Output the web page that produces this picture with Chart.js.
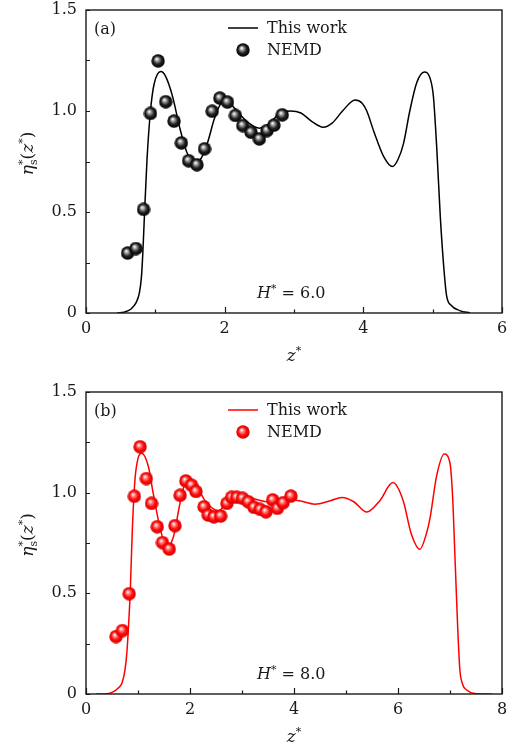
<!DOCTYPE html>
<html lang="en">
<head>
    <meta charset="UTF-8">
    <title>Shear viscosity profiles</title>
    <script src="https://cdn.jsdelivr.net/npm/chart.js"></script>
    <style>
        body { margin: 0; background: #fff; }
        .panel { position: absolute; left: 0; width: 515px; }
    </style>
</head>
<body>
    <div class="panel" style="top:0;height:375px"><canvas id="chart-a"></canvas></div>
    <div class="panel" style="top:375px;height:374px"><canvas id="chart-b"></canvas></div>

    <script>
        // panel (a), H* = 6.0
        const curveAZ = [0.45, 0.55, 0.65, 0.72, 0.77, 0.80, 0.82, 0.84, 0.88, 0.93, 0.98, 1.08, 1.15, 1.25, 1.35, 1.45, 1.55, 1.65, 1.75, 1.85, 1.95, 2.00, 2.10, 2.20, 2.35, 2.50, 2.65, 2.80, 2.95, 3.10, 3.25, 3.42, 3.55, 3.70, 3.88, 3.98, 4.05, 4.15, 4.30, 4.42, 4.50, 4.58, 4.67, 4.77, 4.88, 4.96, 5.01, 5.06, 5.11, 5.16, 5.20, 5.27, 5.39, 5.54];
        const curveAEta = [0, 0.004, 0.02, 0.05, 0.1, 0.18, 0.3, 0.46, 0.76, 1.0, 1.13, 1.195, 1.17, 1.07, 0.92, 0.8, 0.745, 0.76, 0.84, 0.96, 1.04, 1.05, 1.03, 0.99, 0.94, 0.915, 0.94, 0.99, 1.0, 0.99, 0.95, 0.92, 0.94, 1.0, 1.055, 1.04, 1.0, 0.9, 0.77, 0.725, 0.76, 0.84, 1.0, 1.14, 1.193, 1.165, 1.074, 0.81, 0.477, 0.228, 0.087, 0.037, 0.012, 0];
        const nemdAZ = [0.60, 0.72, 0.83, 0.93, 1.04, 1.15, 1.27, 1.375, 1.48, 1.60, 1.71, 1.82, 1.93, 2.04, 2.155, 2.26, 2.38, 2.50, 2.61, 2.71, 2.83];
        const nemdAEta = [0.297, 0.319, 0.513, 0.988, 1.248, 1.046, 0.95, 0.842, 0.754, 0.734, 0.813, 0.999, 1.064, 1.044, 0.978, 0.928, 0.895, 0.862, 0.903, 0.93, 0.981];

        // panel (b), H* = 8.0
        const curveBZ = [0.2, 0.4, 0.53, 0.62, 0.69, 0.75, 0.79, 0.82, 0.85, 0.89, 0.94, 1.0, 1.07, 1.2, 1.29, 1.42, 1.55, 1.68, 1.81, 1.92, 2.0, 2.13, 2.29, 2.42, 2.55, 2.70, 2.85, 2.99, 3.15, 3.3, 3.5, 3.7, 3.9, 4.1, 4.4, 4.7, 4.92, 5.15, 5.40, 5.65, 5.90, 6.1, 6.25, 6.42, 6.55, 6.62, 6.74, 6.89, 7.0, 7.05, 7.10, 7.15, 7.19, 7.24, 7.32, 7.48, 7.8];
        const curveBEta = [0, 0.001, 0.012, 0.03, 0.053, 0.12, 0.22, 0.35, 0.5, 0.81, 1.06, 1.17, 1.196, 1.13, 1.0, 0.83, 0.73, 0.78, 0.95, 1.055, 1.06, 1.03, 0.96, 0.925, 0.91, 0.95, 0.98, 0.985, 0.975, 0.965, 0.955, 0.96, 0.965, 0.96, 0.943, 0.96, 0.976, 0.955, 0.904, 0.96, 1.05, 0.96, 0.8, 0.719, 0.8, 0.88, 1.08, 1.192, 1.146, 0.98, 0.65, 0.318, 0.119, 0.05, 0.02, 0.003, 0];
        const nemdBZ = [0.577, 0.70, 0.83, 0.93, 1.04, 1.16, 1.26, 1.37, 1.47, 1.60, 1.71, 1.81, 1.92, 2.03, 2.115, 2.27, 2.35, 2.46, 2.59, 2.71, 2.80, 2.90, 3.01, 3.12, 3.23, 3.35, 3.46, 3.59, 3.68, 3.79, 3.94];
        const nemdBEta = [0.285, 0.315, 0.498, 0.982, 1.228, 1.07, 0.947, 0.831, 0.752, 0.72, 0.836, 0.987, 1.058, 1.037, 1.006, 0.93, 0.889, 0.88, 0.884, 0.947, 0.977, 0.977, 0.972, 0.955, 0.927, 0.917, 0.905, 0.964, 0.922, 0.95, 0.983];

        const serif = "'DejaVu Serif', 'Liberation Serif', serif";
        const ink = '#1a1a1a';

        const toPoints = (xs, ys) => xs.map((x, i) => ({ x: x, y: ys[i] }));

        // shaded sphere used as marker
        const makeBall = (dark, mid, light) => {
            const size = 14;
            const c = document.createElement('canvas');
            c.width = size;
            c.height = size;
            const g = c.getContext('2d');
            const r = size / 2 - 0.3;
            const grad = g.createRadialGradient(size / 2 - 1.5, size / 2 - 2, 0.3, size / 2, size / 2, r);
            grad.addColorStop(0, '#ffffff');
            grad.addColorStop(0.22, light);
            grad.addColorStop(0.6, mid);
            grad.addColorStop(1, dark);
            g.fillStyle = grad;
            g.beginPath();
            g.arc(size / 2, size / 2, r, 0, Math.PI * 2);
            g.fill();
            return c;
        };

        const blackBall = makeBall('#000000', '#222222', '#a8a8a8');
        const redBall = makeBall('#d80000', '#ff0a0a', '#ff9090');

        // runs: [text, italic, shift, keepX]; shift 0 normal, 1 sup, -1 sub; keepX stacks the next run on top
        const drawRuns = (ctx, runs, x, y, size, align) => {
            const fontFor = (r) => (r[1] ? 'italic ' : '') + (r[2] ? Math.round(size * 0.66) : size) + 'px ' + serif;
            const advance = (r) => { ctx.font = fontFor(r); return r[3] ? 0 : ctx.measureText(r[0]).width; };
            let total = 0;
            runs.forEach(r => { total += advance(r); });
            let cx = align === 'center' ? x - total / 2 : x;
            ctx.textBaseline = 'alphabetic';
            ctx.textAlign = 'left';
            runs.forEach(r => {
                ctx.font = fontFor(r);
                const dy = r[2] === 1 ? -size * 0.4 : (r[2] === -1 ? size * 0.25 : 0);
                ctx.fillText(r[0], cx, y + dy);
                cx += advance(r);
            });
        };

        const decorPlugin = {
            id: 'decor',
            afterDraw(chart) {
                const opts = chart.options.plugins.decor;
                const ctx = chart.ctx;
                const area = chart.chartArea;
                const xs = chart.scales.x;
                const ys = chart.scales.y;
                ctx.save();
                ctx.strokeStyle = ink;
                ctx.fillStyle = ink;

                // inward ticks
                ctx.lineWidth = 1.2;
                ctx.beginPath();
                for (let v = xs.min; v <= xs.max; v += 1) {
                    const px = Math.round(xs.getPixelForValue(v)) + 0.5;
                    const len = v % 2 === 0 ? 6 : 3.5;
                    ctx.moveTo(px, area.bottom);
                    ctx.lineTo(px, area.bottom - len);
                }
                for (let v = 0; v <= ys.max + 1e-9; v += 0.25) {
                    const py = Math.round(ys.getPixelForValue(v)) + 0.5;
                    ctx.moveTo(area.left, py);
                    ctx.lineTo(area.left + 4, py);
                }
                ctx.stroke();

                // frame
                ctx.lineWidth = 1.4;
                ctx.strokeRect(area.left, area.top, area.right - area.left, area.bottom - area.top);

                // axis titles
                drawRuns(ctx, [['z', true, 0], ['*', false, 1]], (area.left + area.right) / 2, area.bottom + 48, 17, 'center');
                ctx.save();
                ctx.translate(33, (area.top + area.bottom) / 2 - 8);
                ctx.rotate(-Math.PI / 2);
                drawRuns(ctx, [['η', true, 0], ['*', false, 1, true], ['s', false, -1], ['(', false, 0], ['z', true, 0], ['*', false, 1], [')', false, 0]], 0, 0, 17, 'center');
                ctx.restore();

                // panel label and H*
                drawRuns(ctx, [[opts.tag, false, 0]], area.left + 8, area.top + 24, 16, 'left');
                drawRuns(ctx, [['H', true, 0], ['*', false, 1], [' = ' + opts.h, false, 0]], 257, area.bottom - 15, 16, 'left');

                // legend
                ctx.strokeStyle = opts.color;
                ctx.lineWidth = 1.5;
                ctx.beginPath();
                ctx.moveTo(228, area.top + 18);
                ctx.lineTo(258, area.top + 18);
                ctx.stroke();
                ctx.drawImage(opts.ball, 243 - 7, area.top + 40 - 7);
                ctx.fillStyle = ink;
                drawRuns(ctx, [['This work', false, 0]], 267, area.top + 23, 16, 'left');
                drawRuns(ctx, [['NEMD', false, 0]], 267, area.top + 45, 16, 'left');
                ctx.restore();
            }
        };

        const dropLabelPadding = (scale) => {
            scale.paddingTop = 0;
            scale.paddingBottom = 0;
            scale.paddingLeft = 0;
            scale.paddingRight = 0;
        };

        const makeChart = (canvasId, cfg) => {
            const ctx = document.getElementById(canvasId).getContext('2d');
            return new Chart(ctx, {
                type: 'scatter',
                data: {
                    datasets: [{
                        label: 'NEMD',
                        data: toPoints(cfg.nemdZ, cfg.nemdEta),
                        pointStyle: cfg.ball,
                        pointRadius: 7,
                        pointHoverRadius: 7,
                        showLine: false,
                    }, {
                        label: 'This work',
                        data: toPoints(cfg.curveZ, cfg.curveEta),
                        showLine: true,
                        borderColor: cfg.color,
                        borderWidth: 1.5,
                        pointRadius: 0,
                        cubicInterpolationMode: 'monotone',
                    }],
                },
                options: {
                    responsive: true,
                    maintainAspectRatio: false,
                    animation: false,
                    layout: { padding: { top: cfg.top, right: 13, left: 0, bottom: 0 } },
                    plugins: {
                        legend: { display: false },
                        tooltip: { enabled: false },
                        decor: { tag: cfg.tag, h: cfg.h, color: cfg.color, ball: cfg.ball },
                    },
                    scales: {
                        x: {
                            type: 'linear',
                            min: 0,
                            max: cfg.xMax,
                            border: { display: false },
                            grid: { display: false, drawTicks: false },
                            ticks: {
                                stepSize: 2,
                                padding: 6,
                                color: ink,
                                font: { family: serif, size: 16 },
                                maxRotation: 0,
                            },
                            afterFit: (scale) => { scale.height = cfg.xHeight; dropLabelPadding(scale); },
                        },
                        y: {
                            min: 0,
                            max: 1.5,
                            border: { display: false },
                            grid: { display: false, drawTicks: false },
                            ticks: {
                                stepSize: 0.5,
                                padding: 9,
                                color: ink,
                                font: { family: serif, size: 16 },
                                callback: (v) => v === 0 ? '0' : v.toFixed(1),
                            },
                            afterFit: (scale) => { scale.width = 86; dropLabelPadding(scale); },
                        },
                    },
                },
                plugins: [decorPlugin],
            });
        };

        makeChart('chart-a', {
            curveZ: curveAZ, curveEta: curveAEta, nemdZ: nemdAZ, nemdEta: nemdAEta,
            xMax: 6, color: '#000000', ball: blackBall, tag: '(a)', h: '6.0',
            top: 10, xHeight: 62,
        });
        makeChart('chart-b', {
            curveZ: curveBZ, curveEta: curveBEta, nemdZ: nemdBZ, nemdEta: nemdBEta,
            xMax: 8, color: '#ff0000', ball: redBall, tag: '(b)', h: '8.0',
            top: 17, xHeight: 55,
        });
    </script>
</body>
</html>
